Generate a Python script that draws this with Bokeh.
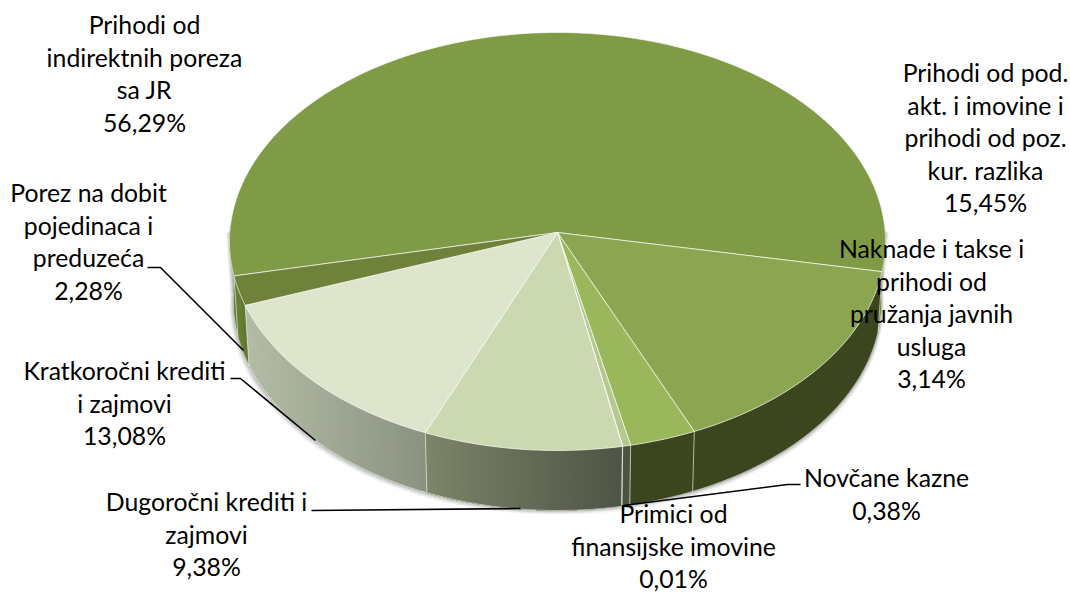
import numpy as np
from bokeh.plotting import figure
from bokeh.models import Range1d
from bokeh.core.properties import value
from bokeh.embed import file_html
from bokeh.resources import INLINE

categories = ["Prihodi od indirektnih poreza sa JR",
              "Prihodi od pod. akt. i imovine i prihodi od poz. kur. razlika",
              "Naknade i takse i prihodi od pružanja javnih usluga",
              "Novčane kazne", "Primici od finansijske imovine",
              "Dugoročni krediti i zajmovi", "Kratkoročni krediti i zajmovi",
              "Porez na dobit pojedinaca i preduzeća"]
values = [56.29, 15.45, 3.14, 0.38, 0.01, 9.38, 13.08, 2.28]
top_colors = ["#7f9b46", "#8ba551", "#9ab85b", "#b5c98e", "#c5d5a5", "#cbd9b1", "#dde5cc", "#6e8239"]
wall_left = ["#5d7230", "#3b451e", "#3b451e", "#4e5340", "#4e5340", "#7c8469", "#b3bca5", "#6b8435"]
wall_right = ["#5d7230", "#3b451e", "#3b451e", "#4e5340", "#4e5340", "#4f5444", "#899380", "#5f7530"]

label_lines = [
    ["Prihodi od", "indirektnih poreza", "sa JR", "56,29%"],
    ["Prihodi od pod.", "akt. i imovine i", "prihodi od poz.", "kur. razlika", "15,45%"],
    ["Naknade i takse i", "prihodi od", "pružanja javnih", "usluga", "3,14%"],
    ["Novčane kazne", "0,38%"],
    ["Primici od", "finansijske imovine", "0,01%"],
    ["Dugoročni krediti i", "zajmovi", "9,38%"],
    ["Kratkoročni krediti", "i zajmovi", "13,08%"],
    ["Porez na dobit", "pojedinaca i", "preduzeća", "2,28%"],
]
label_x = [144, 985, 931, 886, 673, 206, 124, 88]
label_y0 = [24, 72, 248, 477, 513, 501, 370, 192]
line_height = 32.5

leaders = [
    ([147, 160, 243], [267, 267, 350]),
    ([230, 240, 315], [378, 378, 440]),
    ([311, 520], [510, 508]),
    ([800, 787, 623], [484, 484, 505]),
]

CX, CY, APEX_Y, RX, RY, DEPTH, XS = 557.0, 241.0, 232.0, 328.0, 209.0, 60.0, 0.988
START = -101.9


def rim(theta_deg):
    """Point on the top ellipse seen along a pie angle, from the off-centre apex."""
    th = np.radians(theta_deg)
    dx, dy = RX * np.sin(th), -RY * np.cos(th)
    off = APEX_Y - CY
    a = (dx / RX) ** 2 + (dy / RY) ** 2
    b = 2 * dy * off / RY ** 2
    c = (off / RY) ** 2 - 1
    t = (-b + np.sqrt(b * b - 4 * a * c)) / (2 * a)
    return CX + t * dx, APEX_Y + t * dy


def low(x, y):
    return CX + (x - CX) * XS, y + DEPTH


def mix(c1, c2, f):
    a = [int(c1[i:i + 2], 16) for i in (1, 3, 5)]
    b = [int(c2[i:i + 2], 16) for i in (1, 3, 5)]
    return "#%02x%02x%02x" % tuple(int(round(p + (q - p) * f)) for p, q in zip(a, b))


p = figure(width=1070, height=592, x_range=Range1d(0, 1070), y_range=Range1d(592, 0),
           output_backend="svg", toolbar_location=None, min_border=0,
           background_fill_color="white", border_fill_color="white")
p.axis.visible = False
p.grid.visible = False
p.outline_line_color = None

total = sum(values)
edges = START + 360 * np.concatenate([[0], np.cumsum(values)]) / total

# soft shadow behind the drum
sx, sy = rim(np.linspace(90, 270, 181))
bx, by = low(sx, sy)
for off, al in [(4, 0.06), (3, 0.08), (2, 0.12), (1, 0.16)]:
    xs = np.where(bx > CX, bx + off * 0.6, bx - off)
    p.patch(np.r_[sx[0] + off, xs, sx[-1] - off], np.r_[sy[0], by + off, sy[-1]],
            fill_color="#505050", fill_alpha=al, line_color=None)

# side wall: each slice is painted with overlapping strips
seps = []
for i, v in enumerate(values):
    a0, a1 = edges[i], edges[i + 1]
    for r0, r1 in [(a0, a1), (a0 - 360, a1 - 360), (a0 + 360, a1 + 360)]:
        lo, hi = max(r0, 88), min(r1, 272)
        if hi <= lo:
            continue
        n = max(1, int(np.ceil((hi - lo) / 0.75)))
        th = np.linspace(lo, hi, n + 1)
        x0, _ = rim(lo)
        x1, _ = rim(hi)
        xa, ya = rim(th)
        xb, yb = low(xa, ya)
        if wall_left[i] == wall_right[i]:
            p.patch(np.r_[xa, xb[::-1]], np.r_[ya, yb[::-1]],
                    fill_color=wall_left[i], line_color=wall_left[i], line_width=0.5)
        else:
            for j in range(n):
                f = float(np.clip(((xa[j] + xa[j + 1]) / 2 - min(x0, x1)) / abs(x1 - x0), 0, 1))
                p.patch(np.r_[xa[j:], xb[j:][::-1]], np.r_[ya[j:], yb[j:][::-1]],
                        fill_color=mix(wall_left[i], wall_right[i], f), line_color=None)
        if 88 < r1 < 272:
            seps.append(r1)
for s in seps:
    xa, ya = rim(s)
    xd, yd = low(xa, ya)
    p.line([xa, xd], [ya, yd], line_color="white", line_alpha=0.6, line_width=1)
tx, ty = rim(np.linspace(90, 270, 181))
bx, by = low(tx, ty)
p.line(bx, by, line_color="white", line_alpha=0.55, line_width=1)

# top face
for i, v in enumerate(values):
    th = np.linspace(edges[i], edges[i + 1], max(2, int(v * 3.6 / 0.75) + 1))
    xr, yr = rim(th)
    p.patch(np.r_[CX, xr], np.r_[APEX_Y, yr], fill_color=top_colors[i],
            line_color="white", line_alpha=0.65, line_width=1)

# leader lines
for lx, ly in leaders:
    p.line(lx, ly, line_color="black", line_width=1.6)

# labels
xs_t, ys_t, txt = [], [], []
for lines, x0, y0 in zip(label_lines, label_x, label_y0):
    for k, s in enumerate(lines):
        xs_t.append(x0)
        ys_t.append(y0 + k * line_height)
        txt.append(s)
p.text(xs_t, ys_t, text=txt, text_font=value("Lato"), text_font_size="24.8px",
       text_color="black", text_align="center", text_baseline="middle")

open("out.html", "w").write(file_html(p, INLINE))
